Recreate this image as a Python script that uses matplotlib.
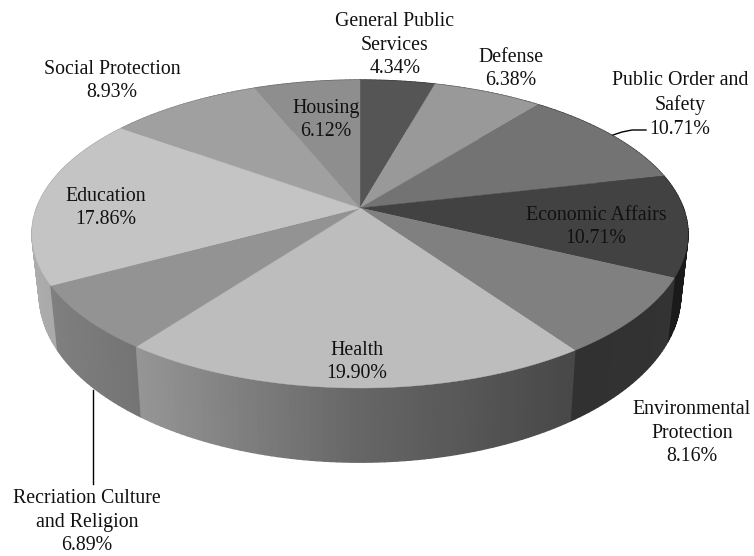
import numpy as np

import matplotlib
matplotlib.use("Agg")
import matplotlib.pyplot as plt

labels = [
    "General Public\nServices", "Defense", "Public Order and\nSafety", "Economic Affairs",
    "Environmental\nProtection", "Health", "Recriation Culture\nand Religion",
    "Education", "Social Protection", "Housing",
]
shares = [4.34, 6.38, 10.71, 10.71, 8.16, 19.90, 6.89, 17.86, 8.93, 6.12]
greys = [0x55, 0x99, 0x73, 0x42, 0x80, 0xBD, 0x93, 0xC4, 0xA0, 0x8E]
label_x = [395, 511, 680, 596, 692, 357, 87, 106, 112, 326]
label_y = [45, 69, 105, 227, 433, 362, 522, 208, 81, 120]

# view of the pie: apex in pixels, scales and perspective fitted to the picture
CX, CY = 360, 208
A, B, P = 323.3, 149.6, 0.1688


def top_xy(theta):
    w = 1 + P * np.cos(theta)
    return A * np.sin(theta) / w, B * np.cos(theta) / w


def to_px(x, y):
    return CX + x, CY - y


def bottom_xy(theta):
    x, y = top_xy(theta)
    return 0.978 * x, 1.09 * y - 58


def wall_shade(x):
    return np.interp(x / 328, [-1, -0.65, 0, 0.65, 1], [0.88, 0.78, 0.54, 0.38, 0.4])


fig = plt.figure(figsize=(7.54, 5.56), dpi=100)
ax = fig.add_axes([0, 0, 1, 1])
ax.set_xlim(0, 754)
ax.set_ylim(556, 0)
ax.axis("off")

edges = np.cumsum([0] + shares) / sum(shares) * 2 * np.pi

# side wall, back to front
quads = []
for i, g in enumerate(greys):
    n = max(int(np.degrees(edges[i + 1] - edges[i])), 2)
    ts = np.linspace(edges[i], edges[i + 1], n + 1)
    for t0, t1 in zip(ts[:-1], ts[1:]):
        quads.append((t0, t1, g))
quads.sort(key=lambda q: -np.cos((q[0] + q[1]) / 2))
for t0, t1, g in quads:
    x0, y0 = top_xy(t0)
    x1, y1 = top_xy(t1)
    bx0, by0 = bottom_xy(t0)
    bx1, by1 = bottom_xy(t1)
    v = g / 255 * wall_shade((x0 + x1) / 2)
    px, py = to_px(np.array([x0, x1, bx1, bx0]), np.array([y0, y1, by1, by0]))
    ax.fill(px, py, color=(v, v, v), lw=1.0, zorder=2)

# top face
for i, g in enumerate(greys):
    ts = np.linspace(edges[i], edges[i + 1], 80)
    x, y = top_xy(ts)
    px, py = to_px(np.r_[0, x], np.r_[0, y])
    ax.fill(px, py, color=(g / 255,) * 3, lw=0.3, zorder=3)

# leader lines
ax.plot([93, 93], [390, 484], color="black", lw=1, zorder=4)
ax.plot([613, 622, 632, 646], [135, 132, 130, 130], color="black", lw=1, zorder=4)

for name, share, lx, ly in zip(labels, shares, label_x, label_y):
    ax.text(lx, ly, f"{name}\n{share:.2f}%", ha="center", va="center", fontsize=14.3,
            family="Liberation Serif", color="#111111", linespacing=1.35, zorder=5)

fig.savefig("out.png", dpi=100)
plt.close(fig)
